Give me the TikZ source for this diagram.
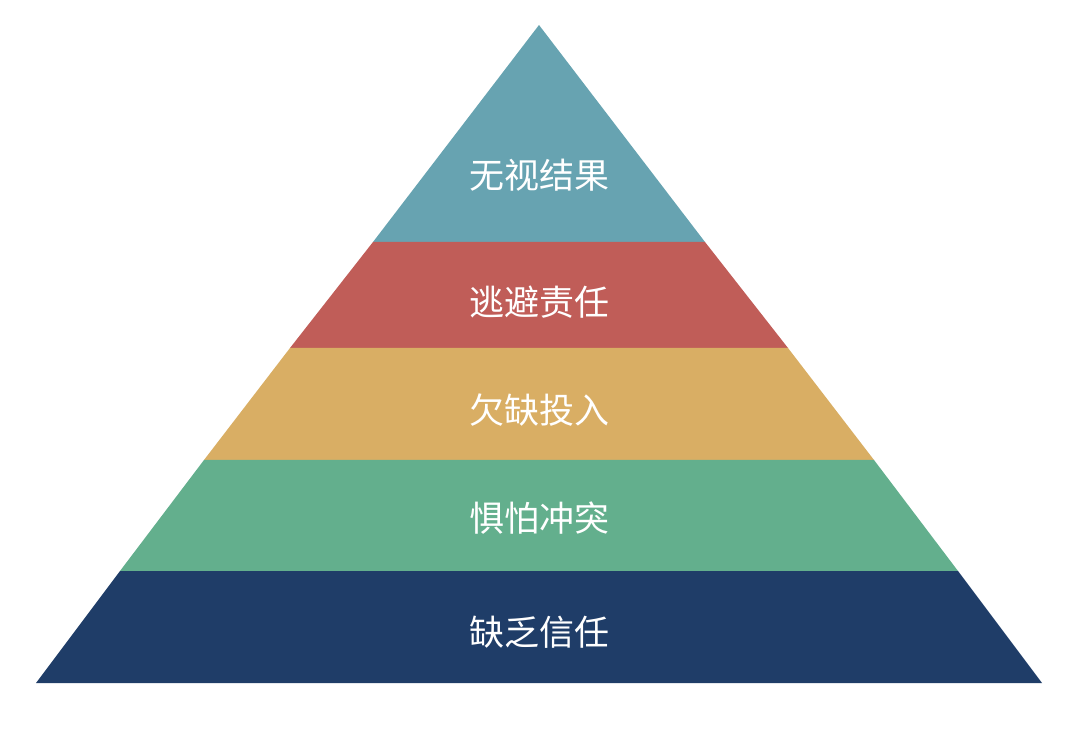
\documentclass[tikz,border=0pt]{standalone}
\usepackage{fontspec}
\newfontfamily\cjk{Noto Sans CJK SC}[BoldFont={* Bold}]
\definecolor{cTop}{HTML}{67A3B1}
\definecolor{cRed}{HTML}{C05D58}
\definecolor{cYel}{HTML}{D9AE64}
\definecolor{cGrn}{HTML}{63AF8D}
\definecolor{cNav}{HTML}{1F3D68}
\tikzset{lbl/.style={text=white,font=\cjk\fontsize{35}{40}\selectfont}}
\begin{document}
\begin{tikzpicture}[x=1pt,y=-1pt]
\useasboundingbox (0,0) rectangle (1080,735);
\def\L#1{\pgfmathparse{539-0.7644*(#1-25)}\pgfmathresult}
\def\R#1{\pgfmathparse{539+0.7644*(#1-25)}\pgfmathresult}
\fill[cTop] (539,25) -- (373,242) -- (705,242) -- cycle;
\fill[cRed] (373,242) -- (705,242) -- (788,348) -- (290,348) -- cycle;
\fill[cYel] (290,348) -- (788,348) -- (874,460) -- (204,460) -- cycle;
\fill[cGrn] (204,460) -- (874,460) -- (958,571) -- (120,571) -- cycle;
\fill[cNav] (120,571) -- (958,571) -- (1042,683) -- (36,683) -- cycle;
\node[lbl] (t1) at (539,175) {无视结果};
\node[lbl] (t2) at (539,302) {逃避责任};
\node[lbl] (t3) at (539,410) {欠缺投入};
\node[lbl] (t4) at (539,518) {惧怕冲突};
\node[lbl] (t5) at (539,632) {缺乏信任};
\end{tikzpicture}
\end{document}
